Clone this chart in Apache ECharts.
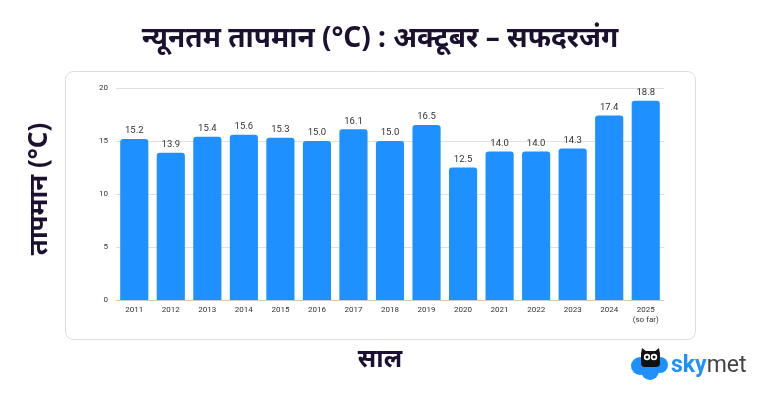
<!DOCTYPE html>
<html><head><meta charset="utf-8">
<script src="https://cdn.jsdelivr.net/npm/echarts@6/dist/echarts.min.js"></script>
<style>html,body{margin:0;padding:0;background:#fff}#c{width:760px;height:400px}</style>
</head><body><div id="c"></div>
<script>
const categories = ['2011','2012','2013','2014','2015','2016','2017','2018','2019','2020','2021','2022','2023','2024','2025\n(so far)'];
const values = [15.2,13.9,15.4,15.6,15.3,15.0,16.1,15.0,16.5,12.5,14.0,14.0,14.3,17.4,18.8];
const yTicks = [0,5,10,15,20];
const titleText = 'न्यूनतम तापमान (°C) : अक्टूबर – सफदरजंग';
const yName = 'तापमान (°C)';
const xName = 'साल';

const chart = echarts.init(document.getElementById('c'), null, {renderer:'canvas'});
const dark = '#1b1030';
chart.setOption({
  animation:false,
  title:{text:titleText,left:'center',top:20,textStyle:{fontSize:28,fontWeight:'bold',color:dark,fontFamily:'Noto Sans, sans-serif'}},
  grid:{left:116,right:96,top:88,bottom:100},
  xAxis:{type:'category',data:categories,
    axisLine:{lineStyle:{color:'#ccc'}},axisTick:{show:false},
    axisLabel:{color:'#333',fontSize:8,fontFamily:'Roboto, sans-serif',margin:5,lineHeight:10,interval:0}},
  yAxis:{type:'value',min:yTicks[0],max:yTicks[yTicks.length-1],interval:5,
    axisLabel:{color:'#333',fontSize:8,fontFamily:'Roboto, sans-serif',margin:8},
    splitLine:{lineStyle:{color:'#e0e0e0'}},axisLine:{show:false},axisTick:{show:false}},
  series:[{type:'bar',data:values,barCategoryGap:'23%',
    itemStyle:{color:'#1e90ff',borderRadius:[3,3,0,0]},
    label:{show:true,position:'top',distance:3,color:'#333',fontSize:9.5,fontFamily:'Roboto, sans-serif',formatter:p=>p.value.toFixed(1)}}],
  graphic:[
    {type:'rect',z:-10,silent:true,shape:{x:65.5,y:71.5,width:630,height:268,r:8},style:{fill:'#fff',stroke:'#dcdcdc',lineWidth:1}},
    {type:'text',x:40,y:189,rotation:Math.PI/2,style:{text:yName,fontSize:26,fontWeight:'bold',fill:dark,fontFamily:'Noto Sans, sans-serif',align:'center',verticalAlign:'middle'}},
    {type:'text',x:380,y:360,style:{text:xName,fontSize:25,fontWeight:'bold',fill:dark,fontFamily:'Noto Sans, sans-serif',align:'center',verticalAlign:'middle'}},
    {type:'group',x:0,y:0,children:[
      {type:'circle',shape:{cx:640,cy:366,r:9},style:{fill:'#1e90ff'}},
      {type:'circle',shape:{cx:660,cy:365,r:8},style:{fill:'#1e90ff'}},
      {type:'circle',shape:{cx:650,cy:371,r:9},style:{fill:'#1e90ff'}},
      {type:'rect',shape:{x:641,y:351,width:19,height:16,r:4},style:{fill:'#111'}},
      {type:'polygon',shape:{points:[[641,354],[642,348],[647,352]]},style:{fill:'#111'}},
      {type:'polygon',shape:{points:[[660,354],[659,348],[654,352]]},style:{fill:'#111'}},
      {type:'circle',shape:{cx:647,cy:357,r:3.2},style:{fill:'#fff'}},
      {type:'circle',shape:{cx:654,cy:357,r:3.2},style:{fill:'#fff'}},
      {type:'circle',shape:{cx:647,cy:357,r:1.5},style:{fill:'#111'}},
      {type:'circle',shape:{cx:654,cy:357,r:1.5},style:{fill:'#111'}}
    ]},
    {type:'text',x:671,y:366,style:{rich:{a:{fontSize:23,fontWeight:'bold',fill:'#1e90ff',fontFamily:'Roboto, sans-serif'},b:{fontSize:23,fill:'#444',fontFamily:'Roboto, sans-serif'}},text:'{a|sky}{b|met}',verticalAlign:'middle'}}
  ]
});
</script></body></html>
